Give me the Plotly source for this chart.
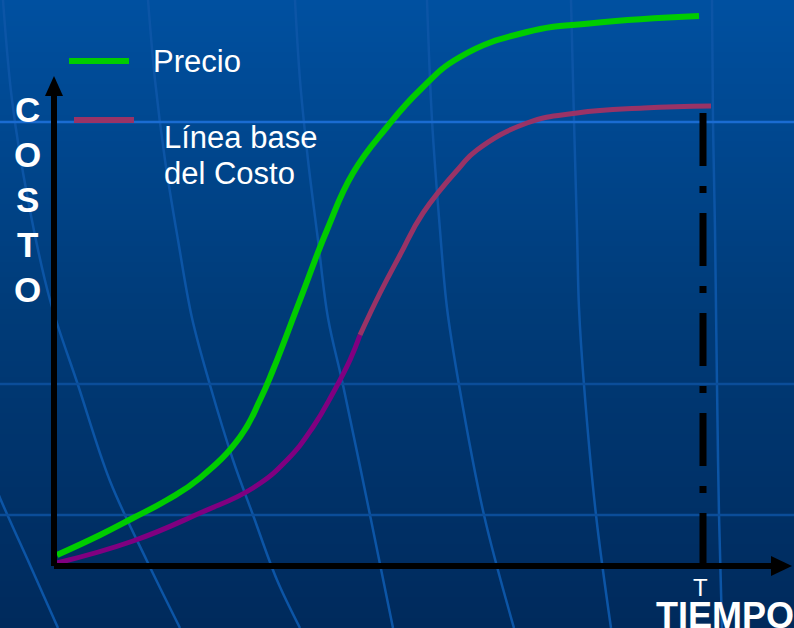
import numpy as np
import plotly.graph_objects as go

# ---- data (tiempo vs costo) ----
tiempo_precio = [3, 46, 79, 113, 146, 186, 206, 219, 246, 273, 299, 333, 366, 406, 473, 540, 645]
costo_precio = [11, 31, 48, 66, 88, 129, 166, 196, 266, 336, 393, 439, 476, 509, 534, 543, 550]

tiempo_base_1 = [3, 79, 146, 199, 233, 259, 279, 296, 306]
costo_base_1 = [3, 25, 53, 78, 106, 139, 173, 206, 231]
tiempo_base_2 = [306, 326, 346, 369, 406, 423, 473, 523, 590, 657]
costo_base_2 = [231, 273, 311, 353, 399, 416, 443, 453, 458, 460]

tiempo_T = 649
legend_labels = ["Precio", "Línea base", "del Costo"]
axis_y_letters = ["C", "O", "S", "T", "O"]
axis_x_label = "TIEMPO"
tick_T = "T"

# ---- coordinate helpers (origin of the axes at pixel 54, 566) ----
OX, OY = 54, 566
W, H = 794, 628


def px(x):
    return x - OX


def py(y):
    return OY - y


fig = go.Figure()

# background gradient
ny = 120
y_edges = np.linspace(py(H), py(0), ny + 1)
zz = np.linspace(0, 1, ny).reshape(-1, 1)
fig.add_trace(go.Heatmap(
    x=[px(0), px(W)], y=y_edges, z=zz,
    colorscale=[[0, "#002a5c"], [0.5, "#003b78"], [1, "#0050a0"]],
    showscale=False, hoverinfo="skip", zsmooth=False,
))

# decorative curved grid
grid_curves = [
    [(-40, 400), (0, 498), (30, 565), (58, 628)],
    [(3, 0), (12, 100), (28, 200), (50, 300), (78, 385), (110, 481), (147, 561), (180, 628)],
    [(148, 0), (155, 80), (165, 160), (178, 240), (192, 318), (210, 385), (233, 460), (253, 515), (277, 580), (300, 628)],
    [(295, 0), (300, 80), (308, 160), (318, 240), (328, 318), (343, 385), (370, 515), (393, 628)],
    [(427, 0), (432, 120), (440, 230), (447, 308), (459, 385), (484, 515), (514, 628)],
    [(571, 0), (574, 120), (577, 230), (579, 308), (584, 385), (596, 515), (611, 628)],
    [(712, 0), (713, 120), (715, 230), (716, 308), (717, 385), (719, 515), (722, 628)],
]
for c in grid_curves:
    fig.add_trace(go.Scatter(
        x=[px(a) for a, b in c], y=[py(b) for a, b in c], mode="lines",
        line=dict(color="#0c55a6", width=2.5, shape="spline"),
        hoverinfo="skip", showlegend=False,
    ))
for yy, col in [(122, "#1a6cd2"), (384, "#0b4d99"), (515, "#0b4d99")]:
    fig.add_trace(go.Scatter(
        x=[px(0), px(W)], y=[py(yy), py(yy)], mode="lines",
        line=dict(color=col, width=2.5), hoverinfo="skip", showlegend=False,
    ))

# data curves
fig.add_trace(go.Scatter(
    x=tiempo_base_1, y=costo_base_1, mode="lines", name="Línea base del Costo",
    line=dict(color="#800080", width=5, shape="spline", smoothing=1.3), showlegend=False,
))
fig.add_trace(go.Scatter(
    x=tiempo_base_2, y=costo_base_2, mode="lines", name="Línea base del Costo",
    line=dict(color="#993366", width=5, shape="spline", smoothing=1.3), showlegend=False,
))
fig.add_trace(go.Scatter(
    x=tiempo_precio, y=costo_precio, mode="lines", name="Precio",
    line=dict(color="#00cc00", width=6, shape="spline", smoothing=1.3), showlegend=False,
))

shapes = []
# axes
shapes.append(dict(type="line", x0=0, y0=0, x1=0, y1=py(96), line=dict(color="black", width=6)))
shapes.append(dict(type="path", path=f"M {px(45)},{py(96)} L {px(54)},{py(76)} L {px(63)},{py(96)} Z",
                   fillcolor="black", line=dict(color="black", width=0)))
shapes.append(dict(type="line", x0=0, y0=0, x1=px(772), y1=0, line=dict(color="black", width=6)))
shapes.append(dict(type="path", path=f"M {px(771)},{py(556)} L {px(792)},{py(566)} L {px(771)},{py(576)} Z",
                   fillcolor="black", line=dict(color="black", width=0)))
# T marker line (dash-dot)
shapes.append(dict(type="line", x0=tiempo_T, y0=py(113), x1=tiempo_T, y1=0,
                   line=dict(color="black", width=7, dash="53px,20px,7px,20px")))
# legend lines
shapes.append(dict(type="line", x0=px(69), y0=py(61), x1=px(129), y1=py(61), line=dict(color="#00cc00", width=6)))
shapes.append(dict(type="line", x0=px(74), y0=py(120), x1=px(134), y1=py(120), line=dict(color="#993366", width=6)))

font = "Arial, Liberation Sans, sans-serif"
ann = []
ann.append(dict(x=px(151), y=py(61), text=legend_labels[0], xanchor="left", yanchor="middle",
                font=dict(family=font, size=31, color="white")))
ann.append(dict(x=px(162), y=py(137), text=legend_labels[1], xanchor="left", yanchor="middle",
                font=dict(family=font, size=31, color="white")))
ann.append(dict(x=px(162), y=py(173), text=legend_labels[2], xanchor="left", yanchor="middle",
                font=dict(family=font, size=31, color="white")))
for i, ch in enumerate(axis_y_letters):
    ann.append(dict(x=px(27), y=py(109 + 45 * i), text=ch, xanchor="center", yanchor="middle",
                    font=dict(family=font, size=35, color="white", weight="bold")))
ann.append(dict(x=px(700), y=py(587), text=tick_T, xanchor="center", yanchor="middle",
                font=dict(family=font, size=24, color="white")))
ann.append(dict(x=px(654), y=py(615), text=axis_x_label, xanchor="left", yanchor="middle",
                font=dict(family=font, size=36, color="white", weight="bold")))
for a in ann:
    a.update(showarrow=False, xref="x", yref="y")

fig.update_layout(
    width=W, height=H, margin=dict(l=0, r=0, t=0, b=0),
    paper_bgcolor="#003b78", plot_bgcolor="#003b78",
    xaxis=dict(range=[px(0), px(W)], visible=False, fixedrange=True),
    yaxis=dict(range=[py(H), py(0)], visible=False, fixedrange=True),
    shapes=shapes, annotations=ann, showlegend=False,
)
fig.write_html("out.html")
